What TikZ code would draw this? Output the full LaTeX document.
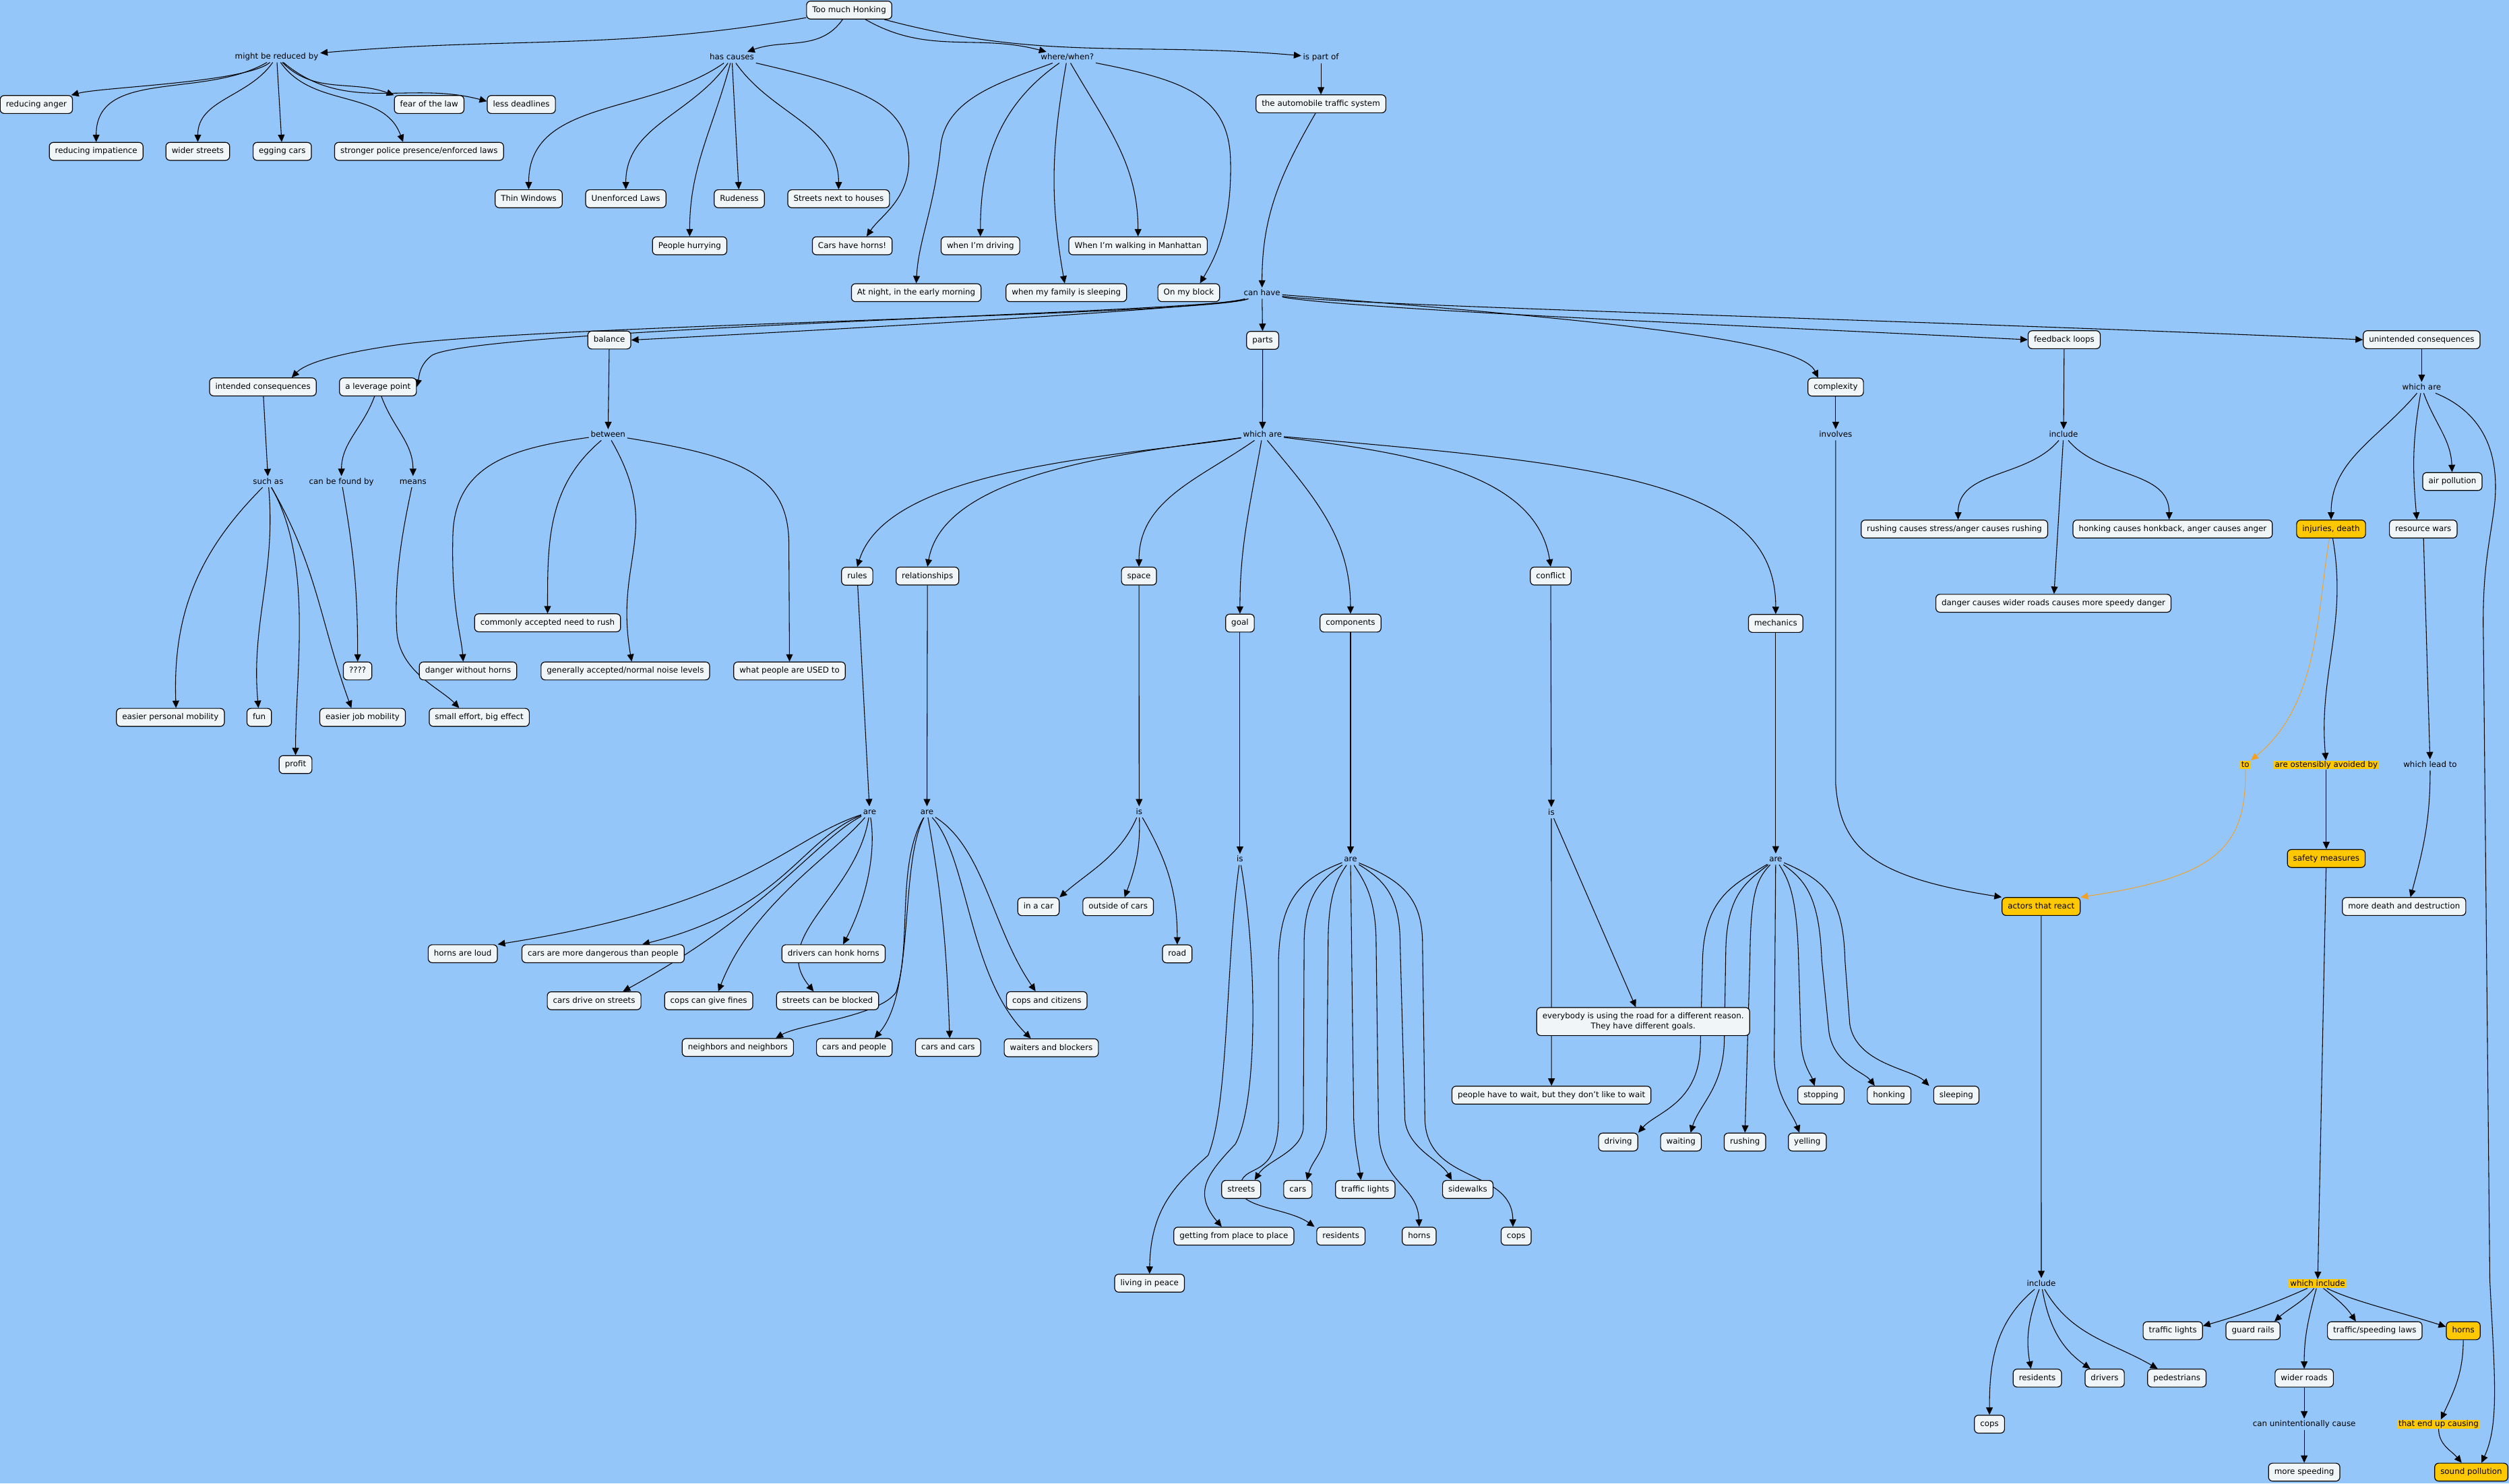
\documentclass[tikz,border=0pt]{standalone}
\usepackage{fontspec}
\setmainfont{DejaVu Sans}
\usetikzlibrary{arrows.meta}
\pgfdeclarelayer{back}
\pgfdeclarelayer{edges}
\pgfsetlayers{back,edges,main}
\definecolor{mapbg}{RGB}{149,198,250}
\definecolor{boxfill}{RGB}{240,246,248}
\definecolor{conyel}{RGB}{255,200,0}
\definecolor{linkor}{RGB}{245,160,30}

\begin{document}
\begin{tikzpicture}[
  x=1pt, y=1pt,
  font=\fontsize{5}{6}\selectfont,
  cbox/.style={draw, line width=0.5pt, fill=boxfill, rounded corners=2.5pt,
               inner xsep=3.6pt, inner ysep=0pt, minimum height=11.2pt,
               text height=3.9pt, text depth=1.1pt},
  ybox/.style={cbox, fill=conyel},
  lnk/.style={inner xsep=1pt, inner ysep=0.8pt, text height=3.9pt, text depth=1.1pt},
  ylnk/.style={lnk, fill=conyel, inner xsep=0.8pt, inner ysep=0.2pt},
  arr/.style={-{Triangle[length=4.6pt,width=4.2pt]}, line width=0.45pt},
  oarr/.style={arr, draw=linkor, line width=0.4pt}
]
\begin{pgfonlayer}{back}
  \fill[mapbg] (0,0) rectangle (1568,-927);
\end{pgfonlayer}
\useasboundingbox (0,0) rectangle (1568,-927);

% --- concepts ----------------------------------------------------------------
\node[cbox] (tmh)    at (530.7,-6.3)   {Too much Honking};
\node[cbox] (ats)    at (825.5,-64.9)  {the automobile traffic system};
\node[cbox] (ranger) at (22.7,-65.3)   {reducing anger};
\node[cbox] (fear)   at (268.2,-65.3)  {fear of the law};
\node[cbox] (lessd)  at (325.8,-65.3)  {less deadlines};
\node[cbox] (rimp)   at (60.1,-94.6)   {reducing impatience};
\node[cbox] (wstr)   at (123.6,-94.6)  {wider streets};
\node[cbox] (egg)    at (176.4,-94.6)  {egging cars};
\node[cbox] (police) at (261.9,-94.6)  {stronger police presence/enforced laws};
\node[cbox] (thinw)  at (330.4,-124.2) {Thin Windows};
\node[cbox] (unenf)  at (391.1,-124.2) {Unenforced Laws};
\node[cbox] (rude)   at (462.0,-124.2) {Rudeness};
\node[cbox] (snh)    at (524.1,-124.2) {Streets next to houses};
\node[cbox] (hurry)  at (431.0,-153.6) {People hurrying};
\node[cbox] (carsh)  at (532.6,-153.6) {Cars have horns!};
\node[cbox] (drivw)  at (612.7,-153.6) {when I'm driving};
\node[cbox] (manh)   at (711.2,-153.6) {When I'm walking in Manhattan};
\node[cbox] (night)  at (572.6,-182.9) {At night, in the early morning};
\node[cbox] (family) at (666.4,-182.9) {when my family is sleeping};
\node[cbox] (block)  at (742.9,-182.9) {On my block};
\node[cbox] (balance) at (380.8,-212.5) {balance};
\node[cbox] (parts)  at (789.1,-212.7) {parts};
\node[cbox] (fbl)    at (1290.0,-212.3) {feedback loops};
\node[cbox] (ucons)  at (1513.4,-212.3) {unintended consequences};
\node[cbox] (icons)  at (164.3,-241.8) {intended consequences};
\node[cbox] (lever)  at (236.2,-241.8) {a leverage point};
\node[cbox] (cmplx)  at (1147.2,-241.9) {complexity};
\node[cbox] (airp)   at (1532.6,-300.9) {air pollution};
\node[cbox] (rushc)  at (1221.4,-330.6) {rushing causes stress/anger causes rushing};
\node[cbox] (honkc)  at (1357.8,-330.6) {honking causes honkback, anger causes anger};
\node[ybox] (injur)  at (1456.8,-330.6) {injuries, death};
\node[cbox] (rwars)  at (1514.4,-330.6) {resource wars};
\node[cbox] (rules)  at (535.7,-360.1) {rules};
\node[cbox] (relat)  at (579.6,-360.0) {relationships};
\node[cbox] (space)  at (711.8,-360.0) {space};
\node[cbox] (confl)  at (969.1,-360.0) {conflict};
\node[cbox] (dangc)  at (1283.3,-377.0) {danger causes wider roads causes more speedy danger};
\node[cbox] (rush)   at (342.2,-389.2) {commonly accepted need to rush};
\node[cbox] (goal)   at (774.9,-389.4) {goal};
\node[cbox] (comps)  at (844.0,-389.4) {components};
\node[cbox] (mech)   at (1109.7,-389.6) {mechanics};
\node[cbox] (quest)  at (223.5,-419.3) {????};
\node[cbox] (dwh)    at (292.5,-419.3) {danger without horns};
\node[cbox] (noise)  at (390.8,-419.3) {generally accepted/normal noise levels};
\node[cbox] (used)   at (493.4,-419.3) {what people are USED to};
\node[cbox] (epm)    at (106.5,-448.3) {easier personal mobility};
\node[cbox] (fun)    at (162.0,-448.3) {fun};
\node[cbox] (ejm)    at (226.6,-448.3) {easier job mobility};
\node[cbox] (sebe)   at (299.5,-448.3) {small effort, big effect};
\node[cbox] (profit) at (184.7,-477.8) {profit};
\node[ybox] (safety) at (1453.8,-536.5) {safety measures};
\node[ybox] (actors) at (1275.6,-566.5) {actors that react};
\node[cbox] (mdd)    at (1502.4,-566.5) {more death and destruction};
\node[cbox] (incar)  at (649.0,-566.6) {in a car};
\node[cbox] (outc)   at (698.8,-566.6) {outside of cars};
\node[cbox] (road)   at (735.7,-596.1) {road};
\node[cbox] (hal)    at (289.2,-596.0) {horns are loud};
\node[cbox] (cmd)    at (376.9,-596.0) {cars are more dangerous than people};
\node[cbox] (dchh)   at (520.9,-596.0) {drivers can honk horns};
\node[cbox] (cdos)   at (371.3,-625.4) {cars drive on streets};
\node[cbox] (ccgf)   at (442.9,-625.4) {cops can give fines};
\node[cbox] (scbb)   at (517.2,-625.4) {streets can be blocked};
\node[cbox] (cac)    at (654.2,-625.3) {cops and citizens};
\node[cbox, text height=, text depth=, minimum height=17.5pt, align=center]
            (every)  at (1026.9,-638.4)
            {everybody is using the road for a different reason.\\They have different goals.};
\node[cbox] (nan)    at (461.1,-654.6) {neighbors and neighbors};
\node[cbox] (cap)    at (533.9,-654.6) {cars and people};
\node[cbox] (cacars) at (592.5,-654.6) {cars and cars};
\node[cbox] (wab)    at (657.0,-654.8) {waiters and blockers};
\node[cbox] (pwait)  at (969.6,-684.4) {people have to wait, but they don't like to wait};
\node[cbox] (stopping) at (1138.0,-684.4) {stopping};
\node[cbox] (honking)  at (1180.6,-684.4) {honking};
\node[cbox] (sleeping) at (1222.6,-684.4) {sleeping};
\node[cbox] (driving)  at (1011.3,-713.7) {driving};
\node[cbox] (waiting)  at (1050.5,-713.7) {waiting};
\node[cbox] (rushing)  at (1090.5,-713.7) {rushing};
\node[cbox] (yelling)  at (1129.5,-713.7) {yelling};
\node[cbox] (streets) at (775.7,-743.3) {streets};
\node[cbox] (cars)    at (811.1,-743.3) {cars};
\node[cbox] (tlights) at (853.2,-743.3) {traffic lights};
\node[cbox] (sidew)   at (917.3,-743.3) {sidewalks};
\node[cbox] (gfpp)    at (771.1,-772.5) {getting from place to place};
\node[cbox] (resid)   at (838.0,-772.5) {residents};
\node[cbox] (horns)   at (886.9,-772.5) {horns};
\node[cbox] (cops)    at (947.5,-772.5) {cops};
\node[cbox] (peace)   at (718.4,-801.9) {living in peace};
\node[cbox] (tlights2) at (1357.9,-831.6) {traffic lights};
\node[cbox] (grails)  at (1408.0,-831.6) {guard rails};
\node[cbox] (tsl)     at (1484.1,-831.6) {traffic/speeding laws};
\node[ybox] (yhorns)  at (1539.4,-831.6) {horns};
\node[cbox] (resid2)  at (1273.2,-861.2) {residents};
\node[cbox] (drivers) at (1315.3,-861.2) {drivers};
\node[cbox] (peds)    at (1360.4,-861.2) {pedestrians};
\node[cbox] (wroads)  at (1440.0,-861.2) {wider roads};
\node[cbox] (cops2)   at (1243.3,-890.0) {cops};
\node[cbox] (speed)   at (1440.0,-920.0) {more speeding};
\node[ybox] (spoll)   at (1544.4,-920.0) {sound pollution};

% --- linking phrases ---------------------------------------------------------
\node[lnk] (mrb)    at (172.9,-35.5)  {might be reduced by};
\node[lnk] (hasc)   at (457.4,-35.9)  {has causes};
\node[lnk] (where)  at (667.0,-35.9)  {where/when?};
\node[lnk] (ispart) at (825.5,-35.9)  {is part of};
\node[lnk] (canh)   at (788.7,-183.2) {can have};
\node[lnk] (whu)    at (1513.4,-242.2) {which are};
\node[lnk] (betw)   at (380.0,-271.7) {between};
\node[lnk] (whp)    at (789.0,-271.7) {which are};
\node[lnk] (invol)  at (1147.2,-271.7) {involves};
\node[lnk] (incfb)  at (1289.6,-271.7) {include};
\node[lnk] (such)   at (167.6,-301.1) {such as};
\node[lnk] (found)  at (213.4,-301.0) {can be found by};
\node[lnk] (means)  at (258.1,-301.0) {means};
\node[ylnk] (tolnk) at (1403.2,-478.0) {to};
\node[ylnk] (avoid) at (1453.8,-478.0) {are ostensibly avoided by};
\node[lnk] (lead)   at (1518.7,-478.0) {which lead to};
\node[lnk] (arer)   at (543.5,-507.4) {are};
\node[lnk] (arel)   at (579.3,-507.4) {are};
\node[lnk] (iss)    at (711.9,-507.4) {is};
\node[lnk] (isc)    at (969.5,-507.9) {is};
\node[lnk] (isg)    at (774.9,-537.1) {is};
\node[lnk] (arec)   at (844.0,-537.1) {are};
\node[lnk] (arem)   at (1109.7,-536.9) {are};
\node[lnk] (incact) at (1275.7,-802.2) {include};
\node[ylnk] (whinc) at (1448.4,-802.2) {which include};
\node[lnk] (unint)  at (1440.0,-890.0) {can unintentionally cause};
\node[ylnk] (endup) at (1524.0,-890.0) {that end up causing};

% --- connectors --------------------------------------------------------------
\begin{pgfonlayer}{edges}
\foreach \a/\b in {ispart/ats, canh/parts, balance/betw, icons/such, parts/whp,
    rules/arer, relat/arel, space/iss, goal/isg, comps/arec, confl/isc,
    mech/arem, cmplx/invol, fbl/incfb, ucons/whu, incfb/dangc, avoid/safety,
    safety/whinc, wroads/unint, unint/speed, actors/incact, isc/pwait,
    mrb/egg, hasc/rude, rwars/lead}
  \draw[arr] (\a) -- (\b);

% top
\draw[arr] (tmh) to[out=190,in=5] (mrb);
\draw[arr] (tmh) to[out=235,in=20] (hasc);
\draw[arr] (tmh) to[out=-30,in=165] (where);
\draw[arr] (tmh) to[out=-15,in=175] (ispart);
\draw[arr] (ats) to[out=240,in=90] (canh);

% might be reduced by
\draw[arr] (mrb) to[out=220,in=15,looseness=0.4] (ranger);
\draw[arr] (mrb) to[out=210,in=90] (rimp);
\draw[arr] (mrb) to[out=235,in=90] (wstr);
\draw[arr] (mrb) to[out=-55,in=110] ([xshift=-10pt]police.north);
\draw[arr] (mrb) to[out=-45,in=160] (fear.north west);
\draw[arr] (mrb) to[out=-40,in=165] ([yshift=2pt]lessd.west);

% has causes
\draw[arr] (hasc) to[out=215,in=90] (thinw);
\draw[arr] (hasc) to[out=235,in=90] (unenf);
\draw[arr] (hasc) to[out=255,in=90] (hurry);
\draw[arr] (hasc) to[out=-55,in=90] (snh);
\draw[arr] (hasc) .. controls (540,-55) and (568,-65) .. (568,-100)
  .. controls (568,-125) and (550,-135) .. ([xshift=9pt]carsh.north);

% where/when?
\draw[arr] (where) .. controls (630,-50) and (592,-60) .. (588,-90)
  .. controls (584,-130) and (574,-150) .. (night.north);
\draw[arr] (where) to[out=215,in=90] (drivw);
\draw[arr] (where) to[out=260,in=100] (family);
\draw[arr] (where) to[out=-60,in=90] (manh);
\draw[arr] (where) .. controls (740,-50) and (768,-60) .. (769,-100)
  .. controls (770,-140) and (760,-160) .. ([xshift=7pt]block.north);

% can have
\draw[arr] (canh) .. controls (762,-192) and (560,-204) .. (balance.east);
\draw[arr] (canh) .. controls (760,-195) and (300,-205) .. (270,-222)
  .. controls (262,-228) and (262,-235) .. (lever.east);
\draw[arr] (canh) .. controls (755,-197) and (330,-203) .. (245,-216)
  .. controls (205,-222) and (190,-228) .. ([xshift=18pt]icons.north);
\draw[arr] (canh) .. controls (1000,-200) and (1125,-212) .. ([xshift=-11pt]cmplx.north);
\draw[arr] (canh) .. controls (840,-193) and (1100,-204) .. (fbl.west);
\draw[arr] (canh) .. controls (840,-191) and (1200,-200) .. (ucons.west);

% balance, intended consequences, leverage point
\draw[arr] (betw) to[out=220,in=90] (rush);
\draw[arr] (betw) .. controls (320,-280) and (284,-290) .. (283,-335)
  .. controls (282,-380) and (288,-395) .. ([xshift=-3pt]dwh.north);
\draw[arr] (betw) to[out=-60,in=100,looseness=1.2] ([xshift=4pt]noise.north);
\draw[arr] (betw) .. controls (460,-285) and (493,-295) .. (493,-340) -- (used.north);
\draw[arr] (such) to[out=225,in=92] ([xshift=3.5pt]epm.north);
\draw[arr] (such) to[out=-85,in=95] (fun);
\draw[arr] (such) to[out=-60,in=90,looseness=0.8] (profit);
\draw[arr] (such) to[out=-60,in=110] ([xshift=-7pt]ejm.north);
\draw[arr] (lever) to[out=250,in=90] (found);
\draw[arr] (lever) to[out=-70,in=90] (means);
\draw[arr] (found) to[out=-80,in=90] (quest);
\draw[arr] (means) .. controls (252,-330) and (246,-360) .. (248,-395)
  .. controls (250,-420) and (275,-430) .. ([xshift=-12.5pt]sebe.north);

% parts
\draw[arr] (whp) .. controls (700,-285) and (555,-292) .. (rules.north);
\draw[arr] (whp) .. controls (705,-283) and (590,-295) .. (relat.north);
\draw[arr] (whp) to[out=215,in=90] (space);
\draw[arr] (whp) to[out=260,in=90] (goal);
\draw[arr] (whp) to[out=-50,in=90] (comps);
\draw[arr] (whp) .. controls (880,-283) and (960,-295) .. (confl.north);
\draw[arr] (whp) .. controls (1000,-290) and (1110,-300) .. (mech.north);

% rules, relationships, space, goal
\draw[arr] (arer) .. controls (490,-525) and (470,-565) .. (hal.north east);
\draw[arr] (arer) .. controls (500,-525) and (490,-568) .. ([xshift=24.5pt]cmd.north);
\draw[arr] (arer) .. controls (510,-525) and (480,-570) .. ([xshift=18pt]cdos.north);
\draw[arr] (arer) .. controls (520,-535) and (470,-565) .. ([xshift=6pt]ccgf.north);
\draw[arr] (arer) .. controls (548,-535) and (540,-565) .. ([xshift=6pt]dchh.north);
\draw[arr] (arer) .. controls (535,-560) and (480,-585) .. ([xshift=-8.7pt]scbb.north);
\draw[arr] (arel) .. controls (560,-540) and (570,-590) .. (560,-620)
  .. controls (550,-635) and (500,-640) .. ([xshift=23.7pt]nan.north);
\draw[arr] (arel) .. controls (562,-540) and (572,-620) .. ([xshift=12.6pt]cap.north);
\draw[arr] (arel) to[out=-80,in=92] ([xshift=1pt]cacars.north);
\draw[arr] (arel) .. controls (605,-535) and (605,-610) .. ([xshift=-12.8pt]wab.north);
\draw[arr] (arel) .. controls (615,-530) and (620,-580) .. ([xshift=-7pt]cac.north);
\draw[arr] (iss) .. controls (700,-535) and (680,-545) .. (incar.north east);
\draw[arr] (iss) to[out=-88,in=70] ([xshift=4pt]outc.north);
\draw[arr] (iss) to[out=-60,in=90] (road);
\draw[arr] (isg) .. controls (786,-600) and (786,-690) .. (772,-715)
  .. controls (755,-733) and (745,-745) .. ([xshift=-7.6pt]gfpp.north);
\draw[arr] (isg) .. controls (766,-600) and (768,-690) .. (755,-722)
  .. controls (735,-740) and (719,-755) .. (peace.north);

% components
\draw[arr] (arec) .. controls (810,-550) and (800,-565) .. (799,-600) -- (799,-700)
  .. controls (798,-740) and (775,-725) .. (775,-743)
  .. controls (775,-755) and (805,-755) .. ([xshift=-16.5pt]resid.north);
\draw[arr] (arec) .. controls (825,-550) and (815,-560) .. (815,-590) -- (814.5,-705)
  .. controls (813,-720) and (792,-725) .. ([xshift=8.4pt]streets.north);
\draw[arr] (arec) .. controls (835,-550) and (830,-560) .. (830,-590) -- (829,-705)
  .. controls (828,-720) and (820,-725) .. ([xshift=5.6pt]cars.north);
\draw[arr] (arec) -- (846,-700) .. controls (847,-720) and (849,-725) .. ([xshift=-2.7pt]tlights.north);
\draw[arr] (arec) .. controls (852,-550) and (860,-560) .. (860,-590) -- (861.5,-705)
  .. controls (862,-740) and (886,-740) .. (horns.north);
\draw[arr] (arec) .. controls (865,-550) and (875,-560) .. (875,-590) -- (878,-700)
  .. controls (880,-718) and (900,-725) .. ([xshift=-10pt]sidew.north);
\draw[arr] (arec) .. controls (875,-550) and (889,-560) .. (889,-590) -- (890.5,-700)
  .. controls (892,-740) and (945,-730) .. ([xshift=-2pt]cops.north);

% conflict, mechanics
\draw[arr] (isc) -- ([xshift=-4.6pt]every.north);
\draw[arr] (arem) .. controls (1085,-552) and (1065,-560) .. (1064,-600) -- (1062.6,-655)
  .. controls (1061,-690) and (1035,-695) .. (driving.north east);
\draw[arr] (arem) .. controls (1090,-552) and (1079,-560) .. (1078.5,-595) -- (1077.6,-650)
  .. controls (1077,-680) and (1062,-690) .. ([xshift=6pt]waiting.north);
\draw[arr] (arem) .. controls (1097,-550) and (1094,-560) .. (1093.6,-600) -- (rushing.north);
\draw[arr] (arem) -- (1108.8,-660) .. controls (1109,-685) and (1120,-695) .. ([xshift=-5pt]yelling.north);
\draw[arr] (arem) .. controls (1118,-550) and (1123,-560) .. (1124,-600) -- (1125.5,-650)
  .. controls (1126,-665) and (1132,-672) .. ([xshift=-4pt]stopping.north);
\draw[arr] (arem) .. controls (1128,-550) and (1137,-560) .. (1138.5,-600) -- (1143,-645)
  .. controls (1146,-665) and (1165,-670) .. ([xshift=-9pt]honking.north);
\draw[arr] (arem) .. controls (1140,-550) and (1152,-560) .. (1153,-600) -- (1156,-640)
  .. controls (1160,-665) and (1195,-668) .. ([xshift=-17pt]sleeping.north);

% complexity, feedback loops
\draw[arr] (invol) -- (1147.2,-490) .. controls (1150,-530) and (1170,-548) .. (actors.north west);
\draw[arr] (incfb) to[out=230,in=90] ([xshift=2.3pt]rushc.north);
\draw[arr] (incfb) to[out=-50,in=90] ([xshift=-2.2pt]honkc.north);
\draw[arr] (incact) to[out=220,in=90] (cops2);
\draw[arr] (incact) to[out=250,in=100] ([xshift=-4pt]resid2.north);
\draw[arr] (incact) to[out=-80,in=145] ([xshift=-9pt]drivers.north);
\draw[arr] (incact) to[out=-60,in=150] ([xshift=-12pt]peds.north);

% unintended consequences
\draw[arr] (whu) to[out=230,in=90] (injur);
\draw[arr] (whu) to[out=260,in=95] ([xshift=-4pt]rwars.north);
\draw[arr] (whu) to[out=-70,in=92] (airp);
\draw[arr] (whu) .. controls (1545,-255) and (1563,-275) .. (1559,-315)
  .. controls (1556,-340) and (1551,-355) .. (1552,-400) -- (1556,-800)
  .. controls (1559,-860) and (1562,-890) .. ([xshift=6.4pt]spoll.north);
\draw[oarr] (injur) .. controls (1448,-380) and (1450,-440) .. (tolnk.north east);
\draw[oarr] (tolnk) .. controls (1404,-530) and (1385,-548) .. (actors.north east);
\draw[arr] (injur) to[out=-80,in=95] (avoid);
\draw[arr] (lead) to[out=-90,in=75] ([xshift=4pt]mdd.north);
\draw[arr] (whinc) .. controls (1420,-815) and (1400,-822) .. ([yshift=3pt]tlights2.east);
\draw[arr] (whinc) .. controls (1440,-813) and (1430,-818) .. ([xshift=13.4pt]grails.north);
\draw[arr] (whinc) to[out=-105,in=90] (wroads);
\draw[arr] (whinc) .. controls (1458,-810) and (1465,-815) .. ([xshift=-11.8pt]tsl.north);
\draw[arr] (whinc) .. controls (1470,-813) and (1500,-820) .. ([yshift=2.5pt]yhorns.west);
\draw[arr] (yhorns) to[out=-90,in=65] (endup);
\draw[arr] (endup) to[out=-90,in=130] ([xshift=-6pt]spoll.north);
\end{pgfonlayer}
\end{tikzpicture}
\end{document}
